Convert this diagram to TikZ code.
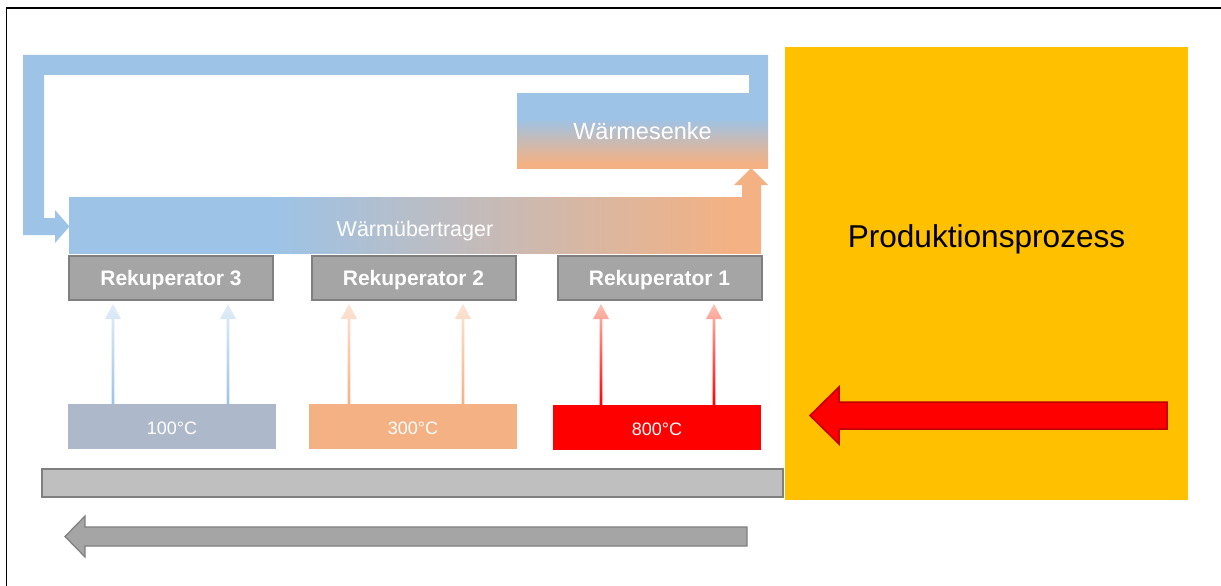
\documentclass[tikz,border=0pt]{standalone}
\usepackage{fontspec}
\setmainfont{Liberation Sans}
\definecolor{kblue}{HTML}{9DC3E6}
\definecolor{korange}{HTML}{F4B183}
\definecolor{kgray}{HTML}{A5A5A5}
\definecolor{kgrayd}{HTML}{7F7F7F}
\definecolor{kgrayl}{HTML}{BFBFBF}
\definecolor{ksteel}{HTML}{ADB9CA}
\definecolor{kred}{HTML}{FF0000}
\definecolor{kdred}{HTML}{C00000}
\definecolor{kgold}{HTML}{FFC000}
\definecolor{kbluel}{HTML}{E2EDF8}
\definecolor{korangel}{HTML}{FCE4D4}
\definecolor{ksalmon}{HTML}{FBC2B2}
\pgfdeclarehorizontalshading{uebshade}{100bp}{color(0bp)=(kblue); color(40bp)=(kblue); color(73bp)=(korange); color(100bp)=(korange)}
\pgfdeclareverticalshading{senkeshade}{100bp}{color(0bp)=(korange); color(28bp)=(korange); color(58bp)=(kblue); color(100bp)=(kblue)}
\tikzset{
  boxbase/.style={rectangle, inner sep=0pt, outer sep=0pt},
  rekbox/.style={boxbase, fill=kgray, draw=kgrayd, line width=2pt, minimum width=204pt, minimum height=44pt},
  tempbox/.style={boxbase, minimum width=208pt, minimum height=45pt},
  whitelbl/.style={text=white, inner sep=0pt, anchor=base},
  reklbl/.style={whitelbl, font=\fontsize{21}{24}\selectfont\bfseries},
  templbl/.style={whitelbl, font=\fontsize{18}{21}\selectfont},
}
\newcommand\thinarr[5]{%
  \shade[bottom color=#4, top color=#5]
    (#1-1.4,#2) -- (#1-1.4,#3+15) -- (#1-8,#3+15) -- (#1,#3) -- (#1+8,#3+15) -- (#1+1.4,#3+15) -- (#1+1.4,#2) -- cycle;}
\begin{document}
\begin{tikzpicture}[x=1pt,y=-1pt]
\useasboundingbox (0,0) rectangle (1221,586);
% frame
\draw[line width=1.5pt] (6.5,586) -- (6.5,8) -- (1221,8);
% production process
\node[boxbase, fill=kgold, minimum width=403pt, minimum height=453pt] (prod) at (986.5,273.5) {};
\node[inner sep=0pt, anchor=base, font=\fontsize{31.6}{36}\selectfont] (prodlbl) at (986.5,247) {Produktionsprozess};
% red arrow
\fill[kred, draw=kdred, line width=1.5pt, line join=miter] (810,415.5) -- (839,387) -- (839,402) -- (1167,402) -- (1167,429) -- (839,429) -- (839,444) -- cycle;
% grey bar and grey arrow
\node[boxbase, fill=kgrayl, draw=kgrayd, line width=1.5pt, minimum width=741pt, minimum height=28pt] (bar) at (412.5,483) {};
\fill[kgray, draw=kgrayd, line width=1.2pt] (65,536.5) -- (85,516) -- (85,527) -- (747,527) -- (747,546) -- (85,546) -- (85,557) -- cycle;
% blue loop arrow
\fill[kblue] (768,93) -- (768,55) -- (23,55) -- (23,235) -- (55,235) -- (55,243) -- (69.5,226.5) -- (55,210) -- (55,218) -- (44,218) -- (44,75) -- (749,75) -- (749,93) -- cycle;
% Waermesenke
\node[boxbase, shading=senkeshade, minimum width=251pt, minimum height=75pt] (senke) at (642.5,130.5) {};
\node[whitelbl, font=\fontsize{23.5}{27}\selectfont] at (642.5,139) {Wärmesenke};
% orange up arrow
\fill[korange] (742,198) -- (742,185) -- (734,185) -- (751,168) -- (768,185) -- (761,185) -- (761,198) -- cycle;
% Waermeuebertrager
\node[boxbase, shading=uebshade, minimum width=692pt, minimum height=56pt] (ueb) at (415,225) {};
\node[whitelbl, font=\fontsize{21.5}{25}\selectfont] at (415,236) {Wärmübertrager};
% Rekuperatoren
\node[rekbox] (r3) at (171,277.5) {};
\node[rekbox] (r2) at (413.5,277.5) {};
\node[rekbox] (r1) at (659.5,277.5) {};
\node[reklbl] at (171,285) {Rekuperator 3};
\node[reklbl] at (413.5,285) {Rekuperator 2};
\node[reklbl] at (659.5,285) {Rekuperator 1};
% temperature boxes
\node[tempbox, fill=ksteel] (t100) at (172,426.5) {};
\node[tempbox, fill=korange] (t300) at (413,426.5) {};
\node[tempbox, fill=kred] (t800) at (657,427) {};
\node[templbl] at (172,434) {100°C};
\node[templbl] at (413,434) {300°C};
\node[templbl] at (657,435) {800°C};
% thin arrows
\thinarr{113}{404}{304}{kblue}{kbluel}
\thinarr{228}{404}{304}{kblue}{kbluel}
\thinarr{349}{404}{304}{korange}{korangel}
\thinarr{463}{404}{304}{korange}{korangel}
\thinarr{601}{405}{304}{kred}{ksalmon}
\thinarr{714}{405}{304}{kred}{ksalmon}
\end{tikzpicture}
\end{document}
